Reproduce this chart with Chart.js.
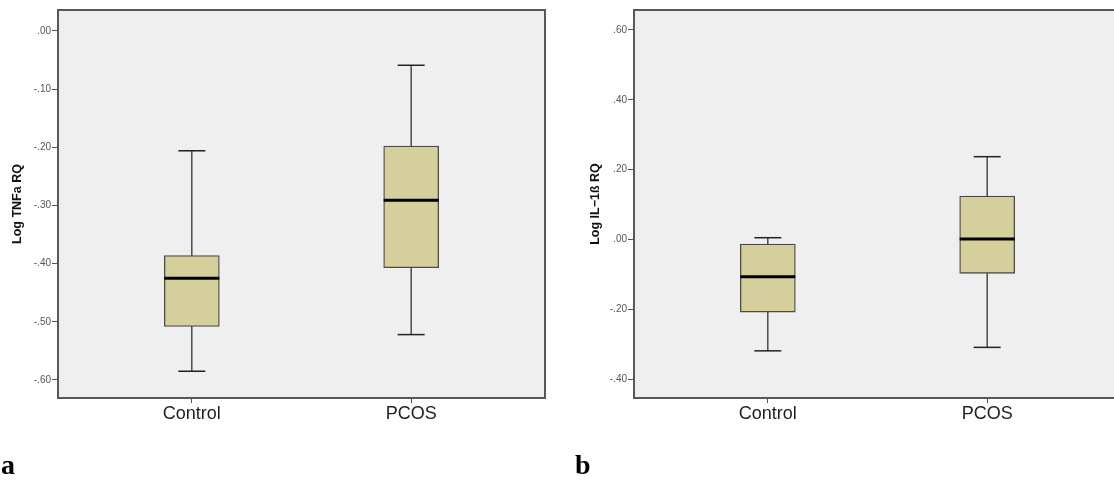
<!DOCTYPE html>
<html>
<head>
<meta charset="utf-8">
<script src="https://cdn.jsdelivr.net/npm/chart.js@4/dist/chart.umd.min.js"></script>
<style>
  html, body { margin: 0; padding: 0; background: #fff; }
  body { width: 1114px; height: 481px; overflow: hidden; position: relative; }
  .panel { position: absolute; top: 0; height: 481px; }
  #panelA { left: 0; width: 560px; }
  #panelB { left: 560px; width: 576px; }
  .tag { position: absolute; top: 449px; font: bold 28px "Liberation Serif", "DejaVu Serif", serif; color: #000; }
</style>
</head>
<body>
<div class="panel" id="panelA"><canvas id="chartA"></canvas></div>
<div class="panel" id="panelB"><canvas id="chartB"></canvas></div>
<div class="tag" style="left:1px">a</div>
<div class="tag" style="left:575px">b</div>
<script>
// groups on the x axis
const groups = ['Control', 'PCOS'];

// TNFa: whisker low, Q1, median, Q3, whisker high
const tnfLow = [-0.585, -0.522];
const tnfQ1 = [-0.508, -0.407];
const tnfMedian = [-0.425, -0.291];
const tnfQ3 = [-0.386, -0.198];
const tnfHigh = [-0.206, -0.059];
const tnfTicks = [0.0, -0.1, -0.2, -0.3, -0.4, -0.5, -0.6];

// IL-1ß: whisker low, Q1, median, Q3, whisker high
const ilLow = [-0.319, -0.309];
const ilQ1 = [-0.208, -0.097];
const ilMedian = [-0.107, 0.001];
const ilQ3 = [-0.013, 0.124];
const ilHigh = [0.005, 0.237];
const ilTicks = [0.6, 0.4, 0.2, 0.0, -0.2, -0.4];

const fmtTick = v => v.toFixed(2).replace(/^(-?)0\./, '$1.').replace(/^-\.00$/, '.00');

// grey plot background and frame
const framePlugin = {
    id: 'frame',
    beforeDraw(chart) {
        const { ctx, chartArea: a } = chart;
        ctx.save();
        ctx.fillStyle = '#efefef';
        ctx.fillRect(a.left, a.top, a.right - a.left, a.bottom - a.top);
        ctx.restore();
    },
    afterDraw(chart) {
        const { ctx, chartArea: a } = chart;
        ctx.save();
        ctx.strokeStyle = '#585858';
        ctx.lineWidth = 2;
        ctx.strokeRect(a.left, a.top, a.right - a.left, a.bottom - a.top);
        ctx.restore();
    }
};

function boxChart(id, title, low, q1, med, q3, high, ticks, yMin, yMax, axisWidth, titlePad) {
    // whisker stems run low -> high, the box covers the middle part
    const stems = [];
    groups.forEach((g, i) => {
        stems.push({ x: i, y: low[i] }, { x: i, y: high[i] }, { x: i, y: null });
    });
    const caps = [];
    groups.forEach((g, i) => {
        caps.push({ x: i, y: low[i] }, { x: i, y: high[i] });
    });
    return new Chart(document.getElementById(id).getContext('2d'), {
        type: 'bar',
        data: {
            datasets: [
                {
                    type: 'line',
                    data: stems,
                    borderColor: '#333',
                    borderWidth: 1.3,
                    pointRadius: 0,
                    spanGaps: false,
                    order: 3,
                },
                {
                    type: 'bar',
                    data: groups.map((g, i) => ({ x: i, y: [q1[i], q3[i]] })),
                    backgroundColor: '#d4cf9b',
                    borderColor: '#4a4a4a',
                    borderWidth: 1.3,
                    borderSkipped: false,
                    barThickness: 55,
                    order: 2,
                },
                {
                    type: 'scatter',
                    data: caps,
                    pointStyle: 'line',
                    pointRadius: 13.5,
                    borderColor: '#222',
                    borderWidth: 1.5,
                    order: 1,
                },
                {
                    type: 'scatter',
                    data: groups.map((g, i) => ({ x: i, y: med[i] })),
                    pointStyle: 'line',
                    pointRadius: 27.5,
                    borderColor: '#000',
                    borderWidth: 3,
                    order: 0,
                },
            ],
        },
        options: {
            responsive: true,
            maintainAspectRatio: false,
            animation: false,
            layout: { autoPadding: false, padding: { top: 10, right: 15, left: 0, bottom: 0 } },
            plugins: { legend: { display: false }, tooltip: { enabled: false } },
            scales: {
                x: {
                    type: 'linear',
                    min: -0.61,
                    max: 1.61,
                    offset: false,
                    afterBuildTicks: s => { s.ticks = groups.map((g, i) => ({ value: i })); },
                    afterFit: s => { s.height = 83; },
                    border: { display: false },
                    grid: { offset: false, drawOnChartArea: false, drawTicks: true, tickLength: 5, tickColor: '#555' },
                    ticks: {
                        callback: v => groups[v],
                        padding: 0,
                        maxRotation: 0,
                        color: '#222',
                        font: { family: 'Liberation Sans, Arial, sans-serif', size: 18 },
                    },
                },
                y: {
                    min: yMin,
                    max: yMax,
                    afterBuildTicks: s => { s.ticks = ticks.map(v => ({ value: v })); },
                    afterFit: s => { s.width = axisWidth; },
                    border: { display: false },
                    grid: { drawOnChartArea: false, drawTicks: true, tickLength: 6, tickColor: '#555' },
                    ticks: {
                        callback: v => fmtTick(v),
                        padding: 1,
                        color: '#555',
                        font: { family: 'Liberation Sans, Arial, sans-serif', size: 10 },
                    },
                    title: {
                        display: true,
                        text: title,
                        color: '#111',
                        padding: { top: titlePad, bottom: 0 },
                        font: { family: 'Liberation Sans, Arial, sans-serif', size: 12.5, weight: 'bold' },
                    },
                },
            },
        },
        plugins: [framePlugin],
    });
}

boxChart('chartA', 'Log TNFa RQ', tnfLow, tnfQ1, tnfMedian, tnfQ3, tnfHigh, tnfTicks, -0.631, 0.036, 58, 10);
boxChart('chartB', 'Log IL\u22121ß RQ', ilLow, ilQ1, ilMedian, ilQ3, ilHigh, ilTicks, -0.454, 0.657, 74, 28);
</script>
</body>
</html>
